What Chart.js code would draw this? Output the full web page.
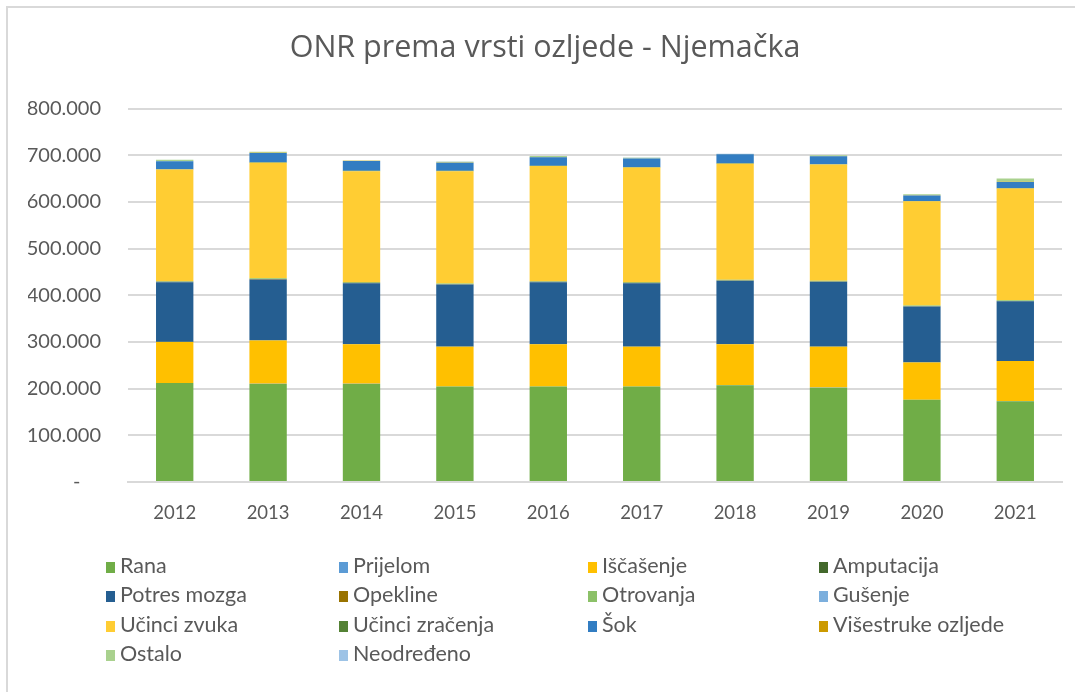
<!DOCTYPE html>
<html>
<head>
<meta charset="utf-8">
<script src="https://cdn.jsdelivr.net/npm/chart.js@4/dist/chart.umd.min.js"></script>
<style>
  html, body { margin: 0; padding: 0; background: #fff; }
  #wrap { position: relative; width: 1075px; height: 692px; overflow: hidden; }
  #frame { position: absolute; left: 6px; top: 6px; width: 1100px; height: 720px; border: 2px solid #d9d9d9; box-sizing: border-box; }
  #graficaOzljede { position: absolute; left: 0; top: 0; }
  #legenda { position: absolute; left: 0; top: 0; width: 1075px; height: 692px; pointer-events: none;
             font-family: Lato, "Open Sans", sans-serif; font-size: 21.5px; color: #595959; }
  .stavka { position: absolute; white-space: nowrap; line-height: 24px; }
  .stavka span.kvadrat { display: inline-block; width: 9px; height: 11px; margin-right: 5px; vertical-align: 0px; }
</style>
</head>
<body>
<div id="wrap">
  <div id="frame"></div>
  <canvas id="graficaOzljede" width="1075" height="692"></canvas>
  <div id="legenda"></div>
</div>
<script>
// Kategorije (godine)
const godine = ["2012", "2013", "2014", "2015", "2016", "2017", "2018", "2019", "2020", "2021"];

// Vrijednosti po vrsti ozljede (procjena s grafikona)
const rana = [212000, 210000, 210000, 204500, 204500, 204500, 207500, 202000, 176000, 173000];
const prijelom = [300, 300, 300, 300, 300, 300, 300, 300, 300, 300];
const iscasenje = [87700, 92700, 84700, 85200, 90200, 85200, 87200, 87700, 79700, 85700];
const amputacija = [500, 500, 500, 500, 500, 500, 500, 500, 500, 500];
const potresMozga = [127500, 130500, 130500, 132500, 132500, 135500, 135500, 138500, 119500, 127500];
const opekline = [800, 800, 800, 800, 800, 800, 800, 800, 800, 800];
const otrovanja = [1500, 1500, 1500, 1500, 1500, 1500, 1500, 1500, 1500, 1500];
const gusenje = [100, 100, 100, 100, 100, 100, 100, 100, 100, 100];
const ucinciZvuka = [239100, 247600, 237600, 240600, 246600, 245600, 248600, 248600, 223100, 239600];
const ucinciZracenja = [800, 800, 800, 800, 800, 800, 800, 800, 800, 800];
const sok = [16700, 20200, 21200, 17200, 18200, 18200, 19200, 17200, 11700, 13200];
const visestruke = [300, 300, 300, 300, 300, 300, 300, 300, 300, 300];
const ostalo = [3000, 2000, 500, 2000, 2000, 1500, 500, 1500, 2000, 7000];
const neodredeno = [200, 200, 200, 200, 200, 200, 200, 200, 200, 200];

// Oznake osi Y
const yMin = 0;
const yMax = 800000;
const yKorak = 100000;

document.addEventListener("DOMContentLoaded", function() {
    const serije = [
        ["Rana", rana, "#70ad47"],
        ["Prijelom", prijelom, "#5b9bd5"],
        ["Iščašenje", iscasenje, "#ffc000"],
        ["Amputacija", amputacija, "#43682b"],
        ["Potres mozga", potresMozga, "#255e91"],
        ["Opekline", opekline, "#997300"],
        ["Otrovanja", otrovanja, "#8cc168"],
        ["Gušenje", gusenje, "#7cafdd"],
        ["Učinci zvuka", ucinciZvuka, "#ffcd33"],
        ["Učinci zračenja", ucinciZracenja, "#548235"],
        ["Šok", sok, "#327dc2"],
        ["Višestruke ozljede", visestruke, "#cc9a00"],
        ["Ostalo", ostalo, "#a9d18e"],
        ["Neodređeno", neodredeno, "#9dc3e6"]
    ];

    const datasets = serije.map(s => ({
        label: s[0],
        data: s[1],
        backgroundColor: s[2],
        borderWidth: 0,
        categoryPercentage: 1.0,
        barPercentage: 0.4
    }));

    const ctx = document.getElementById("graficaOzljede").getContext("2d");
    const chart = new Chart(ctx, {
        type: "bar",
        data: { labels: godine, datasets: datasets },
        options: {
            responsive: false,
            animation: false,
            layout: { padding: { left: 28, right: 13, top: 0, bottom: 170 } },
            plugins: {
                legend: { display: false },
                tooltip: { enabled: false },
                title: {
                    display: true,
                    text: "ONR prema vrsti ozljede - Njemačka",
                    color: "#595959",
                    font: { family: "'Open Sans', sans-serif", size: 30.5, weight: "normal" },
                    padding: { top: 30, bottom: 42 }
                }
            },
            scales: {
                x: {
                    stacked: true,
                    grid: { display: false, drawTicks: false },
                    border: { display: true, color: "#d9d9d9", width: 2 },
                    ticks: {
                        color: "#595959",
                        font: { family: "Lato, sans-serif", size: 18.5 },
                        padding: 20
                    },
                    afterFit: function(scale) { scale.height = 40; }
                },
                y: {
                    stacked: true,
                    min: yMin,
                    max: yMax,
                    grid: { color: "#d9d9d9", lineWidth: 2, drawTicks: false },
                    border: { display: false },
                    ticks: {
                        stepSize: yKorak,
                        color: "#595959",
                        font: { family: "Lato, sans-serif", size: 20 },
                        padding: 27,
                        callback: function(value) {
                            if (value === 0) return "-    ";
                            return value.toLocaleString("de-DE");
                        }
                    },
                    afterFit: function(scale) { scale.width = 100; }
                }
            }
        }
    });

    // Legenda u četiri stupca
    const legenda = document.getElementById("legenda");
    const stupciX = [106, 339, 588, 819];
    const retciY = [553, 582, 612, 641];
    chart.data.datasets.forEach((ds, i) => {
        const el = document.createElement("div");
        el.className = "stavka";
        el.style.left = stupciX[i % 4] + "px";
        el.style.top = retciY[Math.floor(i / 4)] + "px";
        el.innerHTML = `<span class="kvadrat" style="background:${ds.backgroundColor}"></span>${ds.label}`;
        legenda.appendChild(el);
    });
});
</script>
</body>
</html>
